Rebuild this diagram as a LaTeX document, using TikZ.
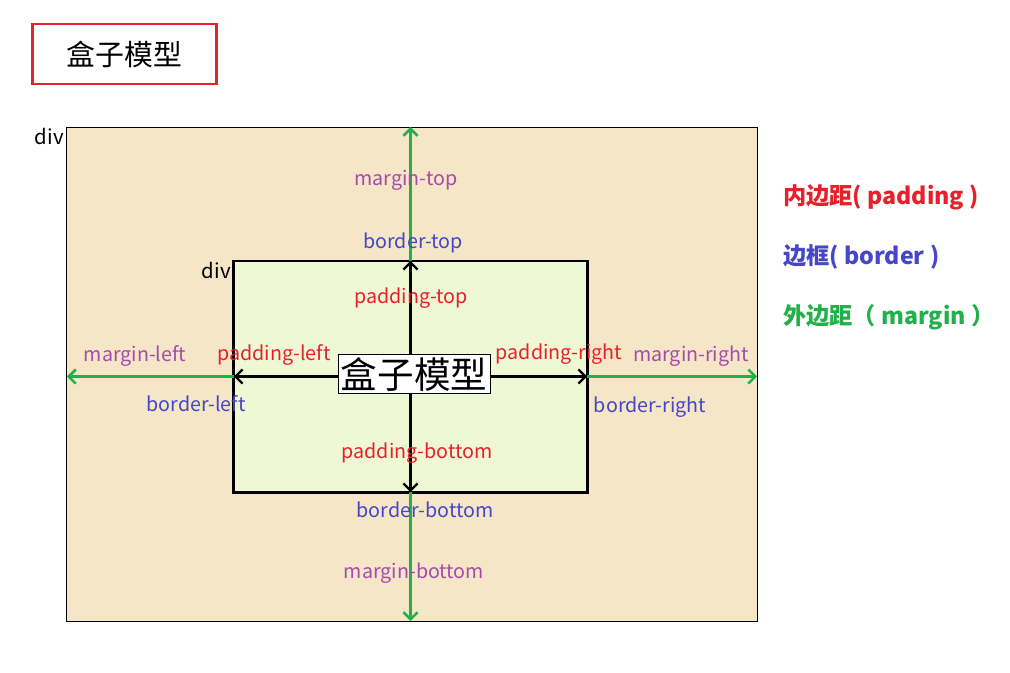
\documentclass[tikz,border=0pt]{standalone}
\usepackage{fontspec}
\setmainfont{Noto Sans CJK SC}
\usetikzlibrary{arrows.meta}
\definecolor{boxred}{HTML}{E8202A}
\definecolor{mpurple}{HTML}{A64AAE}
\definecolor{bblue}{HTML}{4646C8}
\definecolor{mgreen}{HTML}{22B04A}
\definecolor{outerfill}{HTML}{F4E6C6}
\definecolor{innerfill}{HTML}{EEF8D4}

\begin{document}
\begin{tikzpicture}[x=0.025cm, y=-0.025cm,
    lbl/.style={font=\fontsize{14}{16}\selectfont, inner sep=0pt},
    legend/.style={font=\fontsize{16.5}{19}\selectfont\bfseries, anchor=west, inner sep=0pt},
    tip/.style={-{Straight Barb[length=5pt, width=10pt]}},
    marginarrow/.style={tip, mgreen, line width=1.8pt},
    padarrow/.style={tip, black, line width=1.6pt}]
    \useasboundingbox[fill=white] (0,0) rectangle (1010,672);

    % Title box
    \node[draw=boxred, line width=2pt, minimum width=4.6cm, minimum height=1.5cm,
          font=\fontsize{20.5}{24}\selectfont] (title) at (124.5,54) {盒子模型};

    % Outer and inner div
    \node[draw, fill=outerfill, line width=0.6pt, outer sep=0pt,
          minimum width=17.25cm, minimum height=12.35cm] (outer) at (412,374) {};
    \node[draw, fill=innerfill, line width=2.1pt, outer sep=0pt,
          minimum width=8.825cm, minimum height=5.775cm] (inner) at (410.5,376.5) {};
    \node[lbl, font=\fontsize{14.5}{16}\selectfont, anchor=east] (outerdiv) at (outer.north west) [yshift=-0.25cm, xshift=-2pt] {div};
    \node[lbl, font=\fontsize{14.5}{16}\selectfont, anchor=east] (innerdiv) at (inner.north west) [yshift=-0.25cm, xshift=-2pt] {div};

    % Padding arrows
    \draw[padarrow] (inner.center) -- (inner.north);
    \draw[padarrow] (inner.center) -- (inner.south);
    \draw[padarrow] (inner.center) -- (inner.west);
    \draw[padarrow] (inner.center) -- (inner.east);

    % Margin arrows
    \draw[marginarrow] (inner.north) -- (inner.north |- outer.north);
    \draw[marginarrow] (inner.south) -- (inner.south |- outer.south);
    \draw[marginarrow] (inner.west) -- (inner.west -| outer.west);
    \draw[marginarrow] (inner.east) -- (inner.east -| outer.east);

    % Center label
    \node[draw, fill=white, line width=0.6pt, inner sep=2pt,
          font=\fontsize{26}{29}\selectfont] (center) at (414,374) {盒子模型};

    % Labels
    \node[lbl, mpurple] (mtop) at (406,180) {margin-top};
    \node[lbl, bblue] (btop) at (413,243) {border-top};
    \node[lbl, boxred] (ptop) at (411,298) {padding-top};
    \node[lbl, boxred] (pleft) at (274,355) {padding-left};
    \node[lbl, boxred] (pright) at (559,354) {padding-right};
    \node[lbl, mpurple] (mleft) at (135,356) {margin-left};
    \node[lbl, mpurple] (mright) at (691,356) {margin-right};
    \node[lbl, bblue] (bleft) at (196,404) {border-left};
    \node[lbl, bblue] (bright) at (650,407) {border-right};
    \node[lbl, boxred] (pbottom) at (417,453) {padding-bottom};
    \node[lbl, bblue] (bbottom) at (425,510) {border-bottom};
    \node[lbl, mpurple] (mbottom) at (414,573) {margin-bottom};

    % Legend
    \node[legend, boxred] (legpad) at (783,197) {内边距( padding )};
    \node[legend, bblue] (legborder) at (783,257) {边框( border )};
    \node[legend, mgreen] (legmargin) at (783,317) {外边距（ margin ）};
\end{tikzpicture}
\end{document}
